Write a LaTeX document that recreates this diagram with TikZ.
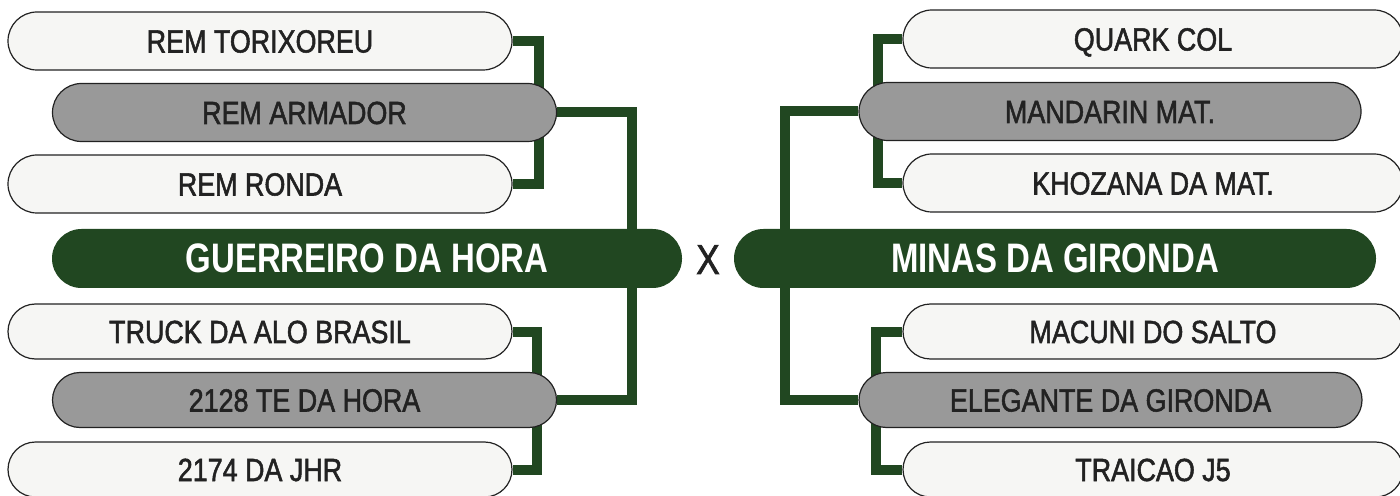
\documentclass[tikz,border=0pt]{standalone}
\usepackage{fontspec}
\setmainfont{Liberation Sans}[FakeStretch=0.84]
\newfontfamily\labelfont{Liberation Sans}[FakeStretch=0.84, FakeBold=1.6]
\newfontfamily\titlefont{Liberation Sans}[FakeStretch=0.8]
\usetikzlibrary{backgrounds}
\definecolor{brkGreen}{HTML}{214721}
\definecolor{brkLight}{HTML}{F6F6F4}
\definecolor{brkGray}{HTML}{999999}
\definecolor{brkInk}{HTML}{222222}

\begin{document}
\begin{tikzpicture}[
    x=0.5pt, y=-0.5pt,
    every node/.style={inner sep=0pt, text height=11.5pt, text depth=0pt},
    entry/.style={draw=brkInk, line width=0.6pt, fill=brkLight, text=brkInk,
      minimum width=252pt, minimum height=29pt, rounded corners=14.5pt,
      font=\labelfont\fontsize{16}{19}\selectfont},
    seed/.style={entry, fill=brkGray},
    low/.style={minimum height=27.5pt, rounded corners=13.75pt},
    finalist/.style={fill=brkGreen, text=white, minimum height=29.5pt,
      rounded corners=14.75pt, text height=14.5pt,
      font=\titlefont\bfseries\fontsize{20.6}{24}\selectfont},
    link/.style={draw=brkGreen, line width=5pt},
  ]
  % Canvas in pixels of the poster: 1400 x 496
  \useasboundingbox (0,0) rectangle (1400,496);

  % Left bracket, upper half
  \node[entry] (tor) at (260,41) {REM TORIXOREU};
  \node[seed]  (arm) at (304.5,112.5) {REM ARMADOR};
  \node[entry] (ron) at (260,184) {REM RONDA};

  % Left finalist
  \node[finalist, minimum width=315pt] (gue) at (367,258.5) {GUERREIRO DA HORA};

  % Left bracket, lower half
  \node[entry, low] (tru) at (260,331.5) {TRUCK DA ALO BRASIL};
  \node[seed, low]  (tte) at (304.5,400) {2128 TE DA HORA};
  \node[entry, low] (jhr) at (260,469.5) {2174 DA JHR};

  % The versus mark
  \node[text=brkInk, text height=15pt, font=\labelfont\fontsize{21}{25}\selectfont] (vs) at (708,259) {X};

  % Right bracket, upper half
  \node[entry, minimum width=250pt] (qua) at (1153,39) {QUARK COL};
  \node[seed, minimum width=251pt]  (man) at (1110,111.5) {MANDARIN MAT.};
  \node[entry, minimum width=250pt] (kho) at (1153,183) {KHOZANA DA MAT.};

  % Right finalist
  \node[finalist, minimum width=321pt] (min) at (1055,258.5) {MINAS DA GIRONDA};

  % Right bracket, lower half
  \node[entry, low, minimum width=250pt] (mac) at (1153,331.5) {MACUNI DO SALTO};
  \node[seed, low, minimum width=251.5pt] (ele) at (1110.5,400) {ELEGANTE DA GIRONDA};
  \node[entry, low, minimum width=250pt] (tra) at (1153,469.5) {TRAICAO J5};

  % Bracket lines, behind the boxes
  \begin{scope}[on background layer]
    \draw[link] (tor.east) -- ++(26,0) |- (ron.east);
    \draw[link] (tru.east) -- ++(24,0) |- (jhr.east);
    \draw[link] (arm.east) -- ++(75,0) |- (tte.east);

    \draw[link] (qua.west) -- ++(-24,0) |- (kho.west);
    \draw[link] (mac.west) -- ++(-26,0) |- (tra.west);
    \draw[link] (man.west) -- ++(-73,0) |- (ele.west);
  \end{scope}
\end{tikzpicture}
\end{document}
